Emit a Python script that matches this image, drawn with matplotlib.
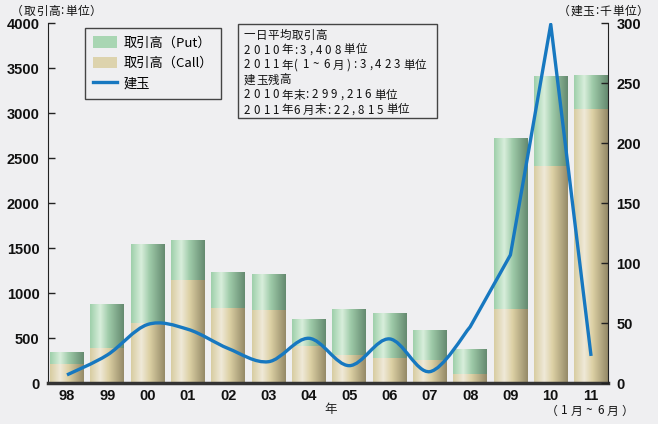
import numpy as np
import matplotlib.pyplot as plt
from matplotlib.path import Path
from matplotlib.patches import PathPatch, Patch, Rectangle
from matplotlib.lines import Line2D
from matplotlib.colors import LinearSegmentedColormap
from matplotlib.font_manager import FontProperties

years = ['98', '99', '00', '01', '02', '03', '04', '05', '06', '07', '08', '09', '10', '11']
total = [337, 870, 1537, 1592, 1237, 1214, 715, 826, 770, 592, 370, 2725, 3408, 3423]
call = [214, 392, 670, 1148, 837, 815, 415, 315, 281, 259, 103, 826, 2418, 3048]
open_int = [7, 23.6, 49, 45, 29, 18, 37.5, 14.7, 37, 9.7, 47, 107, 299.2, 22.8]

info = ['一日平均取引高', '2010年:3,408単位', '2011年( 1 ~ 6月 ):3,423単位',
        '建玉残高', '2010年末:299,216単位', '2011年6月末:22,815単位']

jp = ['Noto Sans CJK JP', 'DejaVu Sans']
num = ['Liberation Sans Narrow', 'Liberation Sans', 'DejaVu Sans']

W, H = 658, 424

put_cmap = LinearSegmentedColormap.from_list(
    'put', [(0, '#9fd0ab'), (0.3, '#d8eedb'), (0.55, '#9fcba9'), (1, '#658a70')])
call_cmap = LinearSegmentedColormap.from_list(
    'call', [(0, '#d8cda2'), (0.3, '#efe9d8'), (0.55, '#dcd0a4'), (1, '#958a68')])
grad = np.linspace(0, 1, 64).reshape(1, -1)

fig = plt.figure(figsize=(W / 100, H / 100), dpi=100, facecolor='#efeff1')
ax = fig.add_axes([0.073, 0.096, 0.851, 0.849])
ax.set_facecolor('none')
renderer = fig.canvas.get_renderer()


def tracked_text(s, x, y, size, track_ascii=3.0, track_cjk=0.4, space=1.5):
    # draw string char by char (pixel coords from top-left) with letter spacing
    prop = FontProperties(family=jp, size=size)
    base = renderer.get_text_width_height_descent('aa', prop, ismath=False)[0]
    pos = x
    for ch in s:
        if ch == ' ':
            pos += space
            continue
        fig.text(pos / W, 1 - y / H, ch, fontproperties=prop, va='center', ha='left',
                 color='#111')
        wpx = renderer.get_text_width_height_descent('a' + ch + 'a', prop, ismath=False)[0] - base
        pos += wpx + (track_ascii if ord(ch) < 128 else track_cjk)


x = np.arange(len(years))
w = 0.84
put = [t - c for t, c in zip(total, call)]
bars_call = ax.bar(x, call, w, color='none')
bars_put = ax.bar(x, put, w, bottom=call, color='none')
for b in bars_call:
    ax.imshow(grad, cmap=call_cmap, aspect='auto', zorder=2,
              extent=[b.get_x(), b.get_x() + b.get_width(), b.get_y(), b.get_y() + b.get_height()])
for b in bars_put:
    ax.imshow(grad, cmap=put_cmap, aspect='auto', zorder=2,
              extent=[b.get_x(), b.get_x() + b.get_width(), b.get_y(), b.get_y() + b.get_height()])

ax.set_xlim(-0.47, 13.42)
ax.set_ylim(0, 4000)
ax.set_yticks(range(0, 4001, 500))
ax.set_xticks(x)
ax.set_xticklabels(years)

ax2 = ax.twinx()
ax2.set_ylim(0, 300)
ax2.set_yticks(range(0, 301, 50))

# smooth curve up to 08, straight afterwards
pts = np.column_stack([x, open_int]).astype(float)
verts = [pts[0]]
codes = [Path.MOVETO]
n_smooth = 10
for i in range(n_smooth):
    p0 = pts[max(i - 1, 0)]
    p1 = pts[i]
    p2 = pts[i + 1]
    p3 = pts[min(i + 2, n_smooth)]
    c1 = p1 + (p2 - p0) / 6
    c2 = p2 - (p3 - p1) / 6
    verts += [c1, c2, p2]
    codes += [Path.CURVE4] * 3
for i in range(n_smooth + 1, len(pts)):
    verts.append(pts[i])
    codes.append(Path.LINETO)
ax2.add_patch(PathPatch(Path(verts, codes), fill=False, edgecolor='#1778c0',
                        lw=2.4, capstyle='butt', joinstyle='round', zorder=5))

for a in (ax, ax2):
    a.spines['top'].set_visible(False)
    a.tick_params(direction='in', length=5, width=1, color='#222')
ax.spines['right'].set_visible(False)
ax2.spines['left'].set_visible(False)
ax.spines['left'].set_color('#222')
ax2.spines['right'].set_color('#222')
ax.spines['bottom'].set_color('#333')
ax.spines['bottom'].set_linewidth(2.5)
ax2.spines['bottom'].set_visible(False)
ax.tick_params(axis='x', length=0, pad=4)
ax.tick_params(axis='y', pad=6)
ax2.tick_params(axis='y', pad=6)
for lab in ax.get_xticklabels() + ax.get_yticklabels() + ax2.get_yticklabels():
    lab.set_family(num)
    lab.set_fontweight('bold')
    lab.set_fontsize(10.5)
    lab.set_color('#111')

tracked_text('（取引高:単位）', 11, 11, 8.5, track_ascii=1.5, track_cjk=0.6)
tracked_text('（建玉:千単位）', 558, 11, 8.5, track_ascii=1.5, track_cjk=0.6)
fig.text(331 / W, 1 - 410 / H, '年', family=jp, fontsize=9, va='center', ha='center', color='#222')
tracked_text('（ 1月 ~ 6月 ）', 546, 411, 8.5, track_ascii=3.0, track_cjk=0.6, space=2.5)

handles = [Patch(facecolor='#a9d6b3', edgecolor='none'),
           Patch(facecolor='#ddd3ad', edgecolor='none'),
           Line2D([], [], color='#1778c0', lw=2.4)]
labels = ['取引高（Put）', '取引高（Call）', '建玉']
leg = ax.legend(handles, labels, loc='upper left', bbox_to_anchor=(85 / W, 1 - 28 / H),
                bbox_transform=fig.transFigure, prop={'family': jp, 'size': 9.5},
                fancybox=False, framealpha=1, facecolor='#efeff1', edgecolor='#444',
                borderpad=0.6, labelspacing=0.55, handlelength=1.8, handleheight=1.0,
                handletextpad=0.5, borderaxespad=0)
leg.get_frame().set_linewidth(1)
leg.set_zorder(10)

# info box
fig.patches.append(Rectangle((238 / W, 1 - 118 / H), 199 / W, 94 / H, transform=fig.transFigure,
                             facecolor='#efeff1', edgecolor='#444', lw=1, zorder=1))
for i, line in enumerate(info):
    tracked_text(line, 244, 35 + 15 * i, 8.3)

fig.savefig('out.png', dpi=100, facecolor=fig.get_facecolor())
